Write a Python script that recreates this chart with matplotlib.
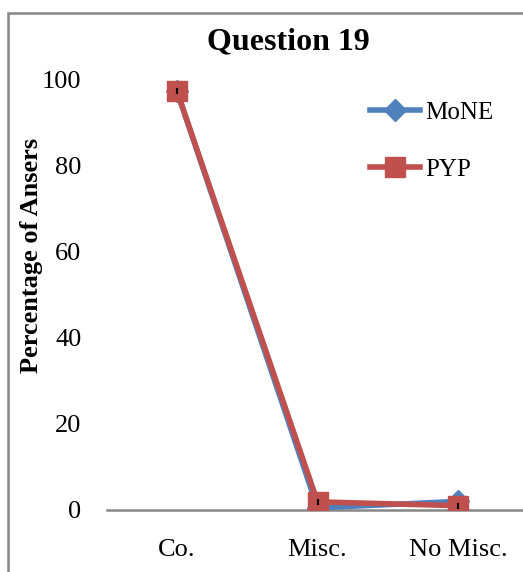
import matplotlib.pyplot as plt
from matplotlib.patches import Rectangle

categories = ["Co.", "Misc.", "No Misc."]
mone = [97.5, 0.5, 2.0]
pyp = [97.5, 1.9, 1.0]
err = [0.7, 0.7, 0.7]

plt.rcParams["font.family"] = ["Liberation Serif", "DejaVu Serif"]

fig = plt.figure(figsize=(5.23, 5.72), dpi=100)

# chart frame
fig.patches.append(Rectangle((8 / 523, -0.1), 1.2, 1 - 13 / 572 + 0.1,
                             transform=fig.transFigure, fill=False,
                             edgecolor="#868686", linewidth=1.8))

ax = fig.add_axes([106.5 / 523, 1 - 510 / 572, 422 / 523, 430 / 572])
x = range(len(categories))

ax.plot(x, mone, color="#4F81BD", linewidth=4, marker="D", markersize=11,
        label="MoNE", zorder=3)
ax.plot(x, pyp, color="#C0504D", linewidth=4, marker="s", markersize=14,
        label="PYP", zorder=4)
ax.errorbar(x, pyp, yerr=err, fmt="none", ecolor="black", elinewidth=1.5,
            capsize=0, zorder=5)

ax.set_xlim(-0.5, 2.5)
ax.set_ylim(0, 100)
ax.set_yticks([0, 20, 40, 60, 80, 100])
ax.set_xticks(list(x))
ax.set_xticklabels(categories)
ax.tick_params(axis="both", length=0, labelsize=19)
ax.tick_params(axis="x", pad=21)
ax.tick_params(axis="y", pad=18)
for s in ["top", "right", "left"]:
    ax.spines[s].set_visible(False)
ax.spines["bottom"].set_color("#868686")
ax.spines["bottom"].set_linewidth(1.8)

fig.text(32 / 523, 1 - 255 / 572, "Percentage of Ansers", fontsize=19,
         fontweight="bold", rotation=90, ha="center", va="center")
fig.text(288 / 523, 1 - 42 / 572, "Question 19", fontsize=23, fontweight="bold",
         ha="center", va="center")

ax.legend(loc="upper left", bbox_to_anchor=(0.572, 1.003), frameon=False,
          fontsize=18, handlelength=2.0, labelspacing=1.4, handletextpad=0.2)

fig.savefig("out.png", dpi=100)
